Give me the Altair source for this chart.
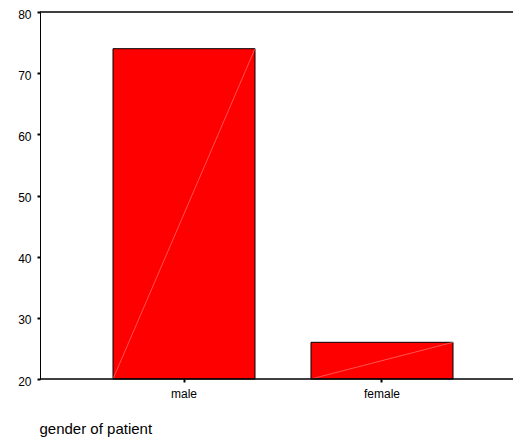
import altair as alt
import pandas as pd

genders = ["male", "female"]
percents = [74, 26]
base_values = [20, 20]
y_ticks = [20, 30, 40, 50, 60, 70, 80]

df = pd.DataFrame({"gender": genders, "percent": percents, "base": base_values})

FONT = "Liberation Sans"
W, H = 473, 367

x_axis = alt.Axis(
    title="gender of patient",
    labelFont=FONT, labelFontSize=12, labelColor="black", labelAngle=0,
    labelPadding=6, domain=False,
    tickColor="black", tickSize=3, tickWidth=2,
    titleFont=FONT, titleFontSize=15, titleFontWeight="normal", titleColor="black",
    titleAnchor="start", titleAlign="left", titleX=-1, titleY=54,
    titleBaseline="alphabetic",
)
y_axis = alt.Axis(
    title=None, values=y_ticks, grid=False,
    labelFont=FONT, labelFontSize=12, labelColor="black", labelPadding=6,
    labelOffset=2,
    tickColor="black", tickSize=3, tickWidth=2,
    domainColor="black", domainWidth=1,
)
x_scale = alt.Scale(paddingInner=0.2828, paddingOuter=0, range=[73, 413])
y_scale = alt.Scale(domain=[20, 80], zero=False, nice=False)

bars = alt.Chart(df).mark_bar(color="#ff0000", stroke="black", strokeWidth=1).encode(
    x=alt.X("gender:N", sort=genders, scale=x_scale, axis=x_axis),
    y=alt.Y("percent:Q", scale=y_scale, axis=y_axis),
    y2=alt.Y2("base:Q"),
)

diag = alt.Chart(df).mark_rule(color="#ff8a8a", strokeWidth=0.6).encode(
    x=alt.X("gender:N", sort=genders, scale=x_scale, axis=x_axis, bandPosition=0),
    x2=alt.X2("gender:N", bandPosition=1),
    y=alt.Y("base:Q", scale=y_scale, axis=y_axis),
    y2=alt.Y2("percent:Q"),
)

top_line = alt.Chart(df).mark_rule(color="black", strokeWidth=1).encode(
    x=alt.value(0), x2=alt.value(W), y=alt.value(0)
)
bottom_line = alt.Chart(df).mark_rule(color="black", strokeWidth=1).encode(
    x=alt.value(0), x2=alt.value(W), y=alt.value(H)
)

chart = alt.layer(bars, diag, top_line, bottom_line).properties(
    width=W, height=H,
    padding={"left": 32, "top": 4, "right": 0, "bottom": 58},
    autosize=alt.AutoSizeParams(type="none"),
).configure_view(stroke=None)

chart.save("out.html", embed_options={"renderer": "svg", "actions": False})
